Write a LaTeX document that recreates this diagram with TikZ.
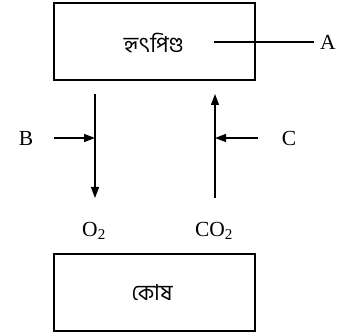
\documentclass[tikz,border=0pt]{standalone}
\usepackage{fontspec}
\setmainfont{Liberation Serif}
\newfontfamily\bnfont[Script=Bengali]{Hind Siliguri}
\usetikzlibrary{arrows.meta}
\begin{document}
\begin{tikzpicture}[x=1pt,y=-1pt,
  organ/.style={draw,line width=1.3pt,minimum width=201pt,minimum height=77pt,inner sep=0pt},
  lbl/.style={font=\fontsize{21.5}{24}\selectfont,inner sep=0pt},
  bn/.style={font=\bnfont\fontsize{22}{26}\selectfont,inner sep=0pt},
  arr/.style={line width=1.2pt,-{Triangle[length=11pt,width=8pt]}},
  ln/.style={line width=1.2pt}]
\useasboundingbox (0,0) rectangle (338,334);
\node[organ] (heart) at (154.5,41.5) {};
\node[bn] (heartt) at (154,43) {হৃৎপিণ্ড};
\node[organ] (cell) at (154.5,292.5) {};
\node[bn] (cellt) at (152,293) {কোষ};
\node[lbl] (A) at (328,42) {A};
\coordinate (a1) at (214,42);
\draw[ln,shorten >=6pt] (a1) -- (A.west);
\coordinate (d1) at (95,94);
\coordinate (d2) at (95,198);
\coordinate (u1) at (215,198);
\coordinate (u2) at (215,94);
\draw[arr] (d1) -- (d2);
\draw[arr] (u1) -- (u2);
\node[lbl] (B) at (26,138) {B};
\node[lbl] (C) at (289,138) {C};
\coordinate (bm) at (95,138);
\coordinate (cm) at (215,138);
\coordinate (bs) at (54,138);
\coordinate (cs) at (258,138);
\draw[arr] (bs) -- (bm);
\draw[arr] (cs) -- (cm);
\node[lbl] (O2) at (94,231) {O\textsubscript{2}};
\node[lbl] (CO2) at (214,231) {CO\textsubscript{2}};
\end{tikzpicture}
\end{document}
